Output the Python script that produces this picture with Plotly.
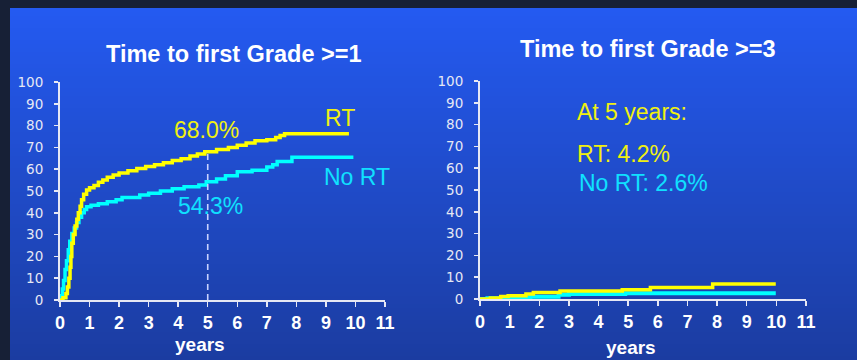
import plotly.graph_objects as go

# ---- 5-year cumulative incidence (%) quoted on the slide ----
rt_5y_g1 = 68.0
nort_5y_g1 = 54.3
rt_5y_g3 = 4.2
nort_5y_g3 = 2.6

# ---- Time to first Grade >= 1 (step curves, years vs %) ----
g1_rt_years = [0, 0.10, 0.20, 0.25, 0.30, 0.34, 0.37, 0.40, 0.45, 0.51, 0.57, 0.62,
               0.68, 0.73, 0.80, 0.90, 1.00, 1.15, 1.30, 1.45, 1.60, 1.80, 2.00,
               2.30, 2.60, 2.90, 3.20, 3.50, 3.80, 4.10, 4.40, 4.65, 4.90, 5.30,
               5.70, 6.00, 6.30, 6.60, 7.00, 7.30, 7.45, 7.60, 9.78]
g1_rt_pct = [0, 1, 3, 6, 10, 15, 20, 26, 30, 34, 37, 40,
             43, 46, 48.5, 50.5, 51.5, 52.5, 54, 55, 56.3, 57.3, 58.3,
             59.3, 60.3, 61.2, 62, 63, 64, 64.8, 66, 67, rt_5y_g1, 69,
             70, 71, 72, 73, 73.5, 74.5, 75.5, 76.3, 76.3]

g1_nort_years = [0, 0.04, 0.08, 0.12, 0.17, 0.22, 0.28, 0.33, 0.40, 0.48, 0.56, 0.64,
                 0.73, 0.82, 0.90, 1.05, 1.30, 1.60, 1.90, 2.10, 2.70, 3.00, 3.40,
                 3.80, 4.20, 4.70, 4.95, 5.30, 5.60, 6.00, 6.50, 7.00, 7.20, 7.35,
                 7.85, 9.93]
g1_nort_pct = [0, 2, 5, 9, 14, 18, 23, 27, 30.5, 33, 35.5, 38,
               40, 41.5, 42.8, 43.5, 44.2, 45.1, 46, 47, 48.2, 49, 50,
               51, 52, 52.7, nort_5y_g1, 55.5, 57, 58.8, 59.5, 61, 62, 63.5,
               65.5, 65.5]

# ---- Time to first Grade >= 3 ----
g3_rt_years = [0, 0.35, 0.70, 0.95, 1.55, 1.80, 2.70, 4.80, 5.75, 7.85, 9.98]
g3_rt_pct = [0, 0.5, 1.1, 1.5, 2.3, 3.0, 3.7, rt_5y_g3, 5.3, 6.9, 6.9]

g3_nort_years = [0, 0.25, 1.25, 1.70, 2.65, 3.00, 4.90, 9.98]
g3_nort_pct = [0, 0.4, 0.7, 1.0, 2.0, 2.3, nort_5y_g3, nort_5y_g3]

x_ticks = list(range(0, 12))
y_ticks = list(range(0, 101, 10))
panel_titles = ["Time to first Grade >=1", "Time to first Grade >=3"]
axis_label = "years"

W, H = 857, 360
YELLOW = "#ffff00"
CYAN = "#00ffff"
YELLOW_TXT = "#f0f010"
CYAN_TXT = "#10e0ff"
AXIS = "#e6e8f4"


def px_x(p):
    return p / W


def px_y(p):
    return 1 - p / H


fig = go.Figure()


def step(x, y, color, xa, ya, width=3.5):
    fig.add_trace(go.Scatter(
        x=x, y=y, mode="lines", xaxis=xa, yaxis=ya, hoverinfo="skip",
        line=dict(shape="hv", color=color, width=width)))


step(g1_nort_years, g1_nort_pct, CYAN, "x", "y")
step(g1_rt_years, g1_rt_pct, YELLOW, "x", "y")
step(g3_nort_years, g3_nort_pct, CYAN, "x2", "y2", width=4)
step(g3_rt_years, g3_rt_pct, YELLOW, "x2", "y2")

# dashed marker at 5 years, up to the RT curve
fig.add_trace(go.Scatter(
    x=[5, 5], y=[0, rt_5y_g1], mode="lines", xaxis="x", yaxis="y", hoverinfo="skip",
    line=dict(color="#c8d2ff", width=1.6, dash="6px,4px")))

# slide background: dark frame + vertical blue gradient (overlapping bands)
shapes = []
top_c = (36, 90, 241)
bot_c = (27, 60, 160)
y0 = 8
band = 4
y = y0
while y < H:
    t = (y - y0) / (H - y0)
    c = tuple(round(a + (b - a) * t) for a, b in zip(top_c, bot_c))
    shapes.append(dict(
        type="rect", xref="paper", yref="paper", layer="below",
        x0=px_x(10), x1=1, y0=px_y(min(y + band + 2, H)), y1=px_y(y),
        line=dict(width=0), fillcolor="rgb(%d,%d,%d)" % c))
    y += band

tick_font_y = dict(family="DejaVu Sans", size=13.5, color=AXIS)
tick_font_x = dict(family="Liberation Sans", size=18, color="#ffffff", weight="bold")


def xaxis(domain, anchor):
    return dict(domain=domain, anchor=anchor, range=[0, 11], tickvals=x_ticks,
                showgrid=False, zeroline=False, showline=True, linecolor=AXIS,
                linewidth=2, ticks="outside", ticklen=5, tickwidth=1.5,
                tickcolor=AXIS, tickfont=tick_font_x, ticklabelstandoff=0,
                layer="below traces", fixedrange=True)


def yaxis(domain, anchor):
    return dict(domain=domain, anchor=anchor, range=[0, 100], tickvals=y_ticks,
                showgrid=False, zeroline=False, showline=True, linecolor=AXIS,
                linewidth=2, ticks="outside", ticklen=4, tickwidth=1.5,
                tickcolor=AXIS, tickfont=tick_font_y, ticklabelstandoff=8,
                layer="below traces", fixedrange=True)


ann_font = dict(family="Liberation Sans", size=23)
title_font = dict(family="Liberation Sans", size=23.5, color="#ffffff", weight="bold")
years_font = dict(family="Liberation Sans", size=19, color="#ffffff", weight="bold")

annotations = [
    dict(text=panel_titles[0], x=px_x(233.5), y=px_y(54), xref="paper", yref="paper",
         showarrow=False, font=title_font, xanchor="center", yanchor="middle"),
    dict(text=panel_titles[1], x=px_x(647.5), y=px_y(49.5), xref="paper", yref="paper",
         showarrow=False, font=title_font, xanchor="center", yanchor="middle"),
    dict(text=axis_label, x=px_x(200), y=px_y(344), xref="paper", yref="paper",
         showarrow=False, font=years_font, xanchor="center", yanchor="middle"),
    dict(text=axis_label, x=px_x(631), y=px_y(347), xref="paper", yref="paper",
         showarrow=False, font=years_font, xanchor="center", yanchor="middle"),
    # Grade >= 1 panel labels
    dict(text="%.1f%%" % rt_5y_g1, x=4.97, y=78, xref="x", yref="y", showarrow=False,
         font=dict(ann_font, color=YELLOW_TXT), xanchor="center", yanchor="middle"),
    dict(text="%.1f%%" % nort_5y_g1, x=5.08, y=43.1, xref="x", yref="y", showarrow=False,
         font=dict(ann_font, color=CYAN_TXT), xanchor="center", yanchor="middle"),
    dict(text="RT", x=9.48, y=83.7, xref="x", yref="y", showarrow=False,
         font=dict(ann_font, color=YELLOW_TXT), xanchor="center", yanchor="middle"),
    dict(text="No RT", x=10.05, y=56.2, xref="x", yref="y", showarrow=False,
         font=dict(ann_font, color=CYAN_TXT), xanchor="center", yanchor="middle"),
    # Grade >= 3 panel labels
    dict(text="At 5 years:", x=3.2, y=86.0, xref="x2", yref="y2", showarrow=False,
         font=dict(ann_font, color=YELLOW_TXT), xanchor="left", yanchor="middle"),
    dict(text="RT: %.1f%%" % rt_5y_g3, x=3.2, y=66.7, xref="x2", yref="y2", showarrow=False,
         font=dict(ann_font, color=YELLOW_TXT), xanchor="left", yanchor="middle"),
    dict(text="No RT: %.1f%%" % nort_5y_g3, x=3.27, y=53.0, xref="x2", yref="y2",
         showarrow=False, font=dict(ann_font, color=CYAN_TXT), xanchor="left",
         yanchor="middle"),
]

fig.update_layout(
    width=W, height=H,
    margin=dict(l=0, r=0, t=0, b=0, pad=0, autoexpand=False),
    paper_bgcolor="#172036", plot_bgcolor="rgba(0,0,0,0)", showlegend=False,
    xaxis=xaxis([px_x(60), px_x(385)], "y"),
    yaxis=yaxis([px_y(300), px_y(82)], "x"),
    xaxis2=xaxis([px_x(480), px_x(806)], "y2"),
    yaxis2=yaxis([px_y(299), px_y(81)], "x2"),
    shapes=shapes, annotations=annotations,
)

fig.write_html("out.html", config={"displayModeBar": False, "staticPlot": True})
